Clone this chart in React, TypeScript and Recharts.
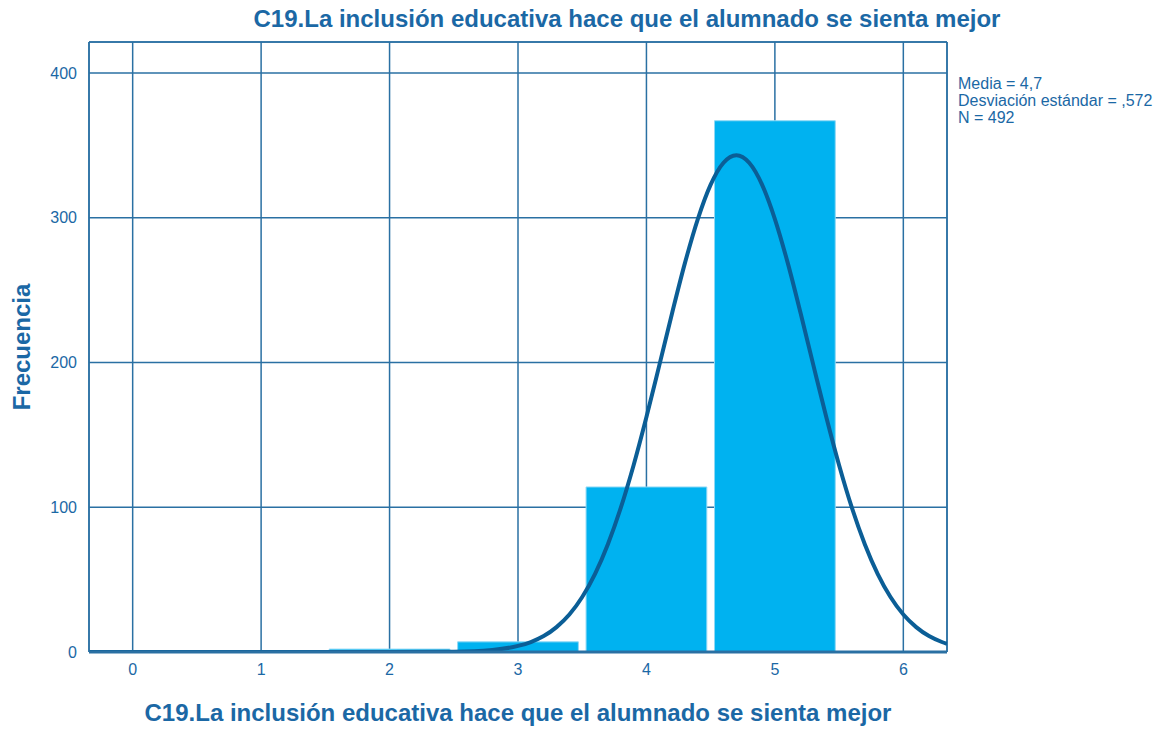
import React from 'react';
import { ComposedChart, Line, XAxis, YAxis, CartesianGrid, ReferenceArea, ReferenceLine } from 'recharts';

// observed frequencies per answer value
const values = [0, 1, 2, 3, 4, 5];
const counts = [1, 1, 2, 7, 114, 367];

// fitted normal curve
const curveX = [-0.34, 1, 2, 2.5, 2.8, 3, 3.1, 3.2, 3.3, 3.4, 3.5, 3.6, 3.7, 3.8, 3.9, 4, 4.1, 4.2, 4.3, 4.4, 4.5, 4.6, 4.7, 4.8, 4.9, 5, 5.1, 5.2, 5.3, 5.4, 5.5, 5.6, 5.7, 5.8, 5.9, 6, 6.1, 6.2, 6.3, 6.34];
const curveY = [0, 0, 0, 0.2, 1.4, 4.2, 6.9, 11, 17.2, 25.9, 38, 54, 74.5, 99.5, 129, 162.3, 198, 234.2, 268.8, 299.1, 322.9, 338, 343.2, 338, 322.9, 299.1, 268.8, 234.2, 198, 162.3, 129, 99.5, 74.5, 54, 38, 25.9, 17.2, 11, 6.9, 5.6];

const xTicks = [0, 1, 2, 3, 4, 5, 6];
const yTicks = [0, 100, 200, 300, 400];

const title = 'C19.La inclusión educativa hace que el alumnado se sienta mejor';
const statsLines = ['Media = 4,7', 'Desviación estándar = ,572', 'N = 492'];

const TEXT = '#1B68A5';
const GRID = '#2A70A3';
const BAR = '#00B2F0';
const CURVE = '#0B5E96';
const FONT = '"Liberation Sans", Arial, sans-serif';

const X_MIN = -0.34;
const X_MAX = 6.34;
const Y_MAX = 421.4;
const HALF = 0.47;

const curve = curveX.map((x, i) => ({ x, y: curveY[i] }));

export default function App() {
  return (
    <div style={{ position: 'absolute', left: 0, top: 0, width: 1165, height: 729, background: '#fff', fontFamily: FONT }}>
      <div style={{ position: 'absolute', left: 0, width: 1254, top: 5, textAlign: 'center', color: TEXT, fontWeight: 'bold', fontSize: 24 }}>
        {title}
      </div>
      <ComposedChart width={1165} height={729} margin={{ top: 42, right: 218, left: 29, bottom: 47 }}>
        <CartesianGrid stroke={GRID} strokeWidth={1.5} ticks={xTicks} />
        <XAxis
          type="number"
          dataKey="x"
          domain={[X_MIN, X_MAX]}
          ticks={xTicks}
          allowDataOverflow
          tickLine={false}
          axisLine={{ stroke: GRID, strokeWidth: 3 }}
          height={30}
          tick={{ fill: TEXT, fontSize: 16, fontFamily: FONT }}
          tickMargin={6}
        />
        <YAxis
          type="number"
          domain={[0, Y_MAX]}
          ticks={yTicks}
          allowDataOverflow
          tickLine={false}
          axisLine={{ stroke: GRID, strokeWidth: 1.5 }}
          width={60}
          tick={{ fill: TEXT, fontSize: 16, fontFamily: FONT }}
          tickMargin={6}
        />
        {values.map((v, i) => (
          <ReferenceArea
            key={v}
            x1={v - HALF}
            x2={v + HALF}
            y1={0}
            y2={counts[i]}
            ifOverflow="hidden"
            fill={BAR}
            fillOpacity={1}
            stroke="#8FD8F5"
            strokeWidth={1}
          />
        ))}
        <ReferenceLine y={Y_MAX} stroke={GRID} strokeWidth={1.5} />
        <ReferenceLine x={X_MAX} stroke={GRID} strokeWidth={1.5} />
        <Line
          data={curve}
          dataKey="y"
          type="monotone"
          stroke={CURVE}
          strokeWidth={4}
          dot={false}
          activeDot={false}
          isAnimationActive={false}
        />
      </ComposedChart>
      <div
        style={{
          position: 'absolute',
          left: 22,
          top: 347,
          transform: 'translate(-50%, -50%) rotate(-90deg)',
          whiteSpace: 'nowrap',
          color: TEXT,
          fontWeight: 'bold',
          fontSize: 24,
        }}
      >
        Frecuencia
      </div>
      <div style={{ position: 'absolute', left: 89, width: 858, top: 699, textAlign: 'center', color: TEXT, fontWeight: 'bold', fontSize: 24 }}>
        {title}
      </div>
      <div style={{ position: 'absolute', left: 958, top: 75, color: TEXT, fontSize: 16, lineHeight: '17px' }}>
        {statsLines.map((s) => (
          <div key={s}>{s}</div>
        ))}
      </div>
    </div>
  );
}
